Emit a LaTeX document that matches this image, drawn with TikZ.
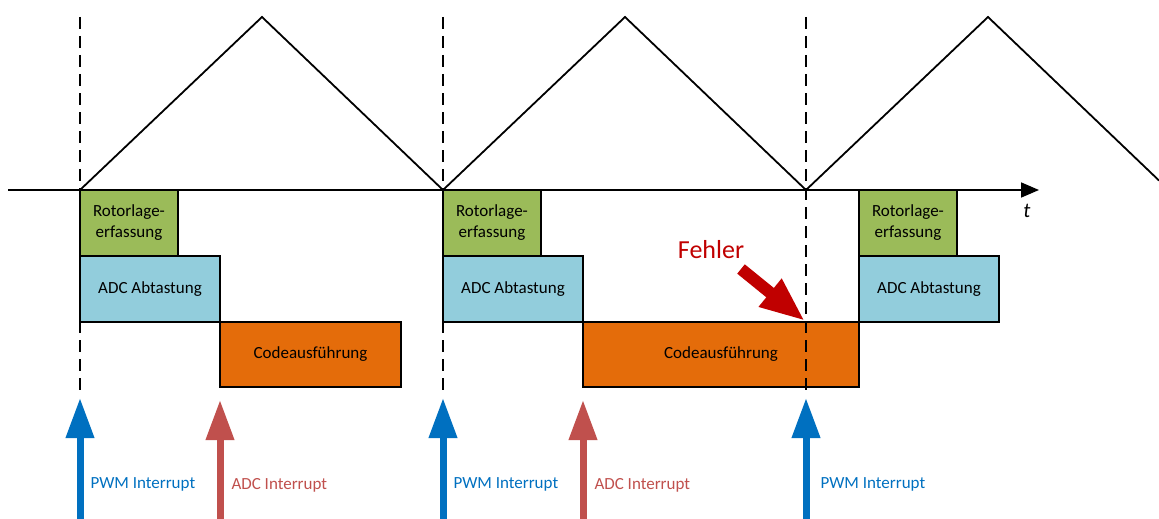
\documentclass[tikz,border=0pt]{standalone}
\usepackage{fontspec}
\setmainfont{Carlito}
\usepackage{xcolor}
\usetikzlibrary{arrows.meta,positioning}
\definecolor{rotorgreen}{HTML}{9BBB59}
\definecolor{adcblue}{HTML}{92CDDC}
\definecolor{codeorange}{HTML}{E46C0A}
\definecolor{pwmblue}{HTML}{0070C0}
\definecolor{adcred}{HTML}{C0504D}
\definecolor{errred}{HTML}{C00000}

\begin{document}
\begin{tikzpicture}[x=1pt, y=-1pt,
	task/.style={draw=black, line width=1.8pt, outer sep=0pt, inner sep=0pt, anchor=north west, align=center, font=\fontsize{17}{21}\selectfont},
	rotor/.style={task, fill=rotorgreen, minimum width=98pt, minimum height=66pt},
	adc/.style={task, fill=adcblue, minimum width=140pt, minimum height=66pt},
	code/.style={task, fill=codeorange, minimum height=65pt},
	sync/.style={line width=1.8pt, dash pattern=on 12pt off 7pt},
	pwmirq/.style={draw=pwmblue, line width=7pt, -{Triangle[length=40pt,width=27pt]}},
	adcirq/.style={draw=adcred, line width=7pt, -{Triangle[length=40pt,width=27pt]}},
	pwmtext/.style={anchor=west, text=pwmblue, font=\fontsize{17}{20}\selectfont},
	adctext/.style={anchor=west, text=adcred, font=\fontsize{17}{20}\selectfont}]
	\useasboundingbox (0,0) rectangle (1159,519);

	% Zeitscheiben
	\node[rotor] (r1) at (80,190)            {Rotorlage-\\erfassung};
	\node[adc] (a1) at (r1.south west)      {ADC Abtastung};
	\node[code, minimum width=181pt] (c1) at (a1.south east) {Codeausführung};
	\node[rotor] (r2) at (443,190)           {Rotorlage-\\erfassung};
	\node[adc] (a2) at (r2.south west)      {ADC Abtastung};
	\node[code, minimum width=276pt] (c2) at (a2.south east) {Codeausführung};
	\node[rotor] (r3) at (c2.north east |- r2.north) {Rotorlage-\\erfassung};
	\node[adc] (a3) at (r3.south west)      {ADC Abtastung};

	% Periodengrenzen
	\draw[sync] (80,17) -- (80,395);
	\draw[sync] (443,17) -- (443,395);
	\draw[sync] (806,17) -- (806,395);

	% Zeitachse und Traegersignal
	\draw[line width=1.8pt, -{Triangle[length=18pt,width=15pt]}] (8,190) -- (1039,190);
	\node[font=\fontsize{21}{24}\selectfont\itshape] (t) at (1027,211) {t};
	\draw[line width=1.8pt, line join=miter] (80,190) -- (262,17) -- (443,190) -- (625,17) -- (806,190) -- (988,17) -- (1159,180.5);

	% Fehler
	\node[text=errred, font=\fontsize{26}{30}\selectfont] (fehler) at (711,250) {Fehler};
	\coordinate (errtail) at (741,269);
	\coordinate (errpt) at (805,321);
	\draw[errred, line width=12pt, -{Triangle[length=45pt,width=33pt]}] (errtail) -- (errpt);

	% Interrupts
	\coordinate (p1) at (80,519);  \coordinate (p1t) at (80,398);
	\coordinate (p2) at (443,519); \coordinate (p2t) at (443,398);
	\coordinate (p3) at (806,519); \coordinate (p3t) at (806,398);
	\coordinate (q1) at (220,519); \coordinate (q1t) at (220,400);
	\coordinate (q2) at (583,519); \coordinate (q2t) at (583,400);
	\draw[pwmirq] (p1) -- (p1t);
	\draw[pwmirq] (p2) -- (p2t);
	\draw[pwmirq] (p3) -- (p3t);
	\draw[adcirq] (q1) -- (q1t);
	\draw[adcirq] (q2) -- (q2t);
	\node[pwmtext] (l1) at (87,484)  {PWM Interrupt};
	\node[pwmtext] (l2) at (450,484) {PWM Interrupt};
	\node[pwmtext] (l3) at (817,484) {PWM Interrupt};
	\node[adctext] (m1) at (228,485) {ADC Interrupt};
	\node[adctext] (m2) at (591,485) {ADC Interrupt};
\end{tikzpicture}
\end{document}
